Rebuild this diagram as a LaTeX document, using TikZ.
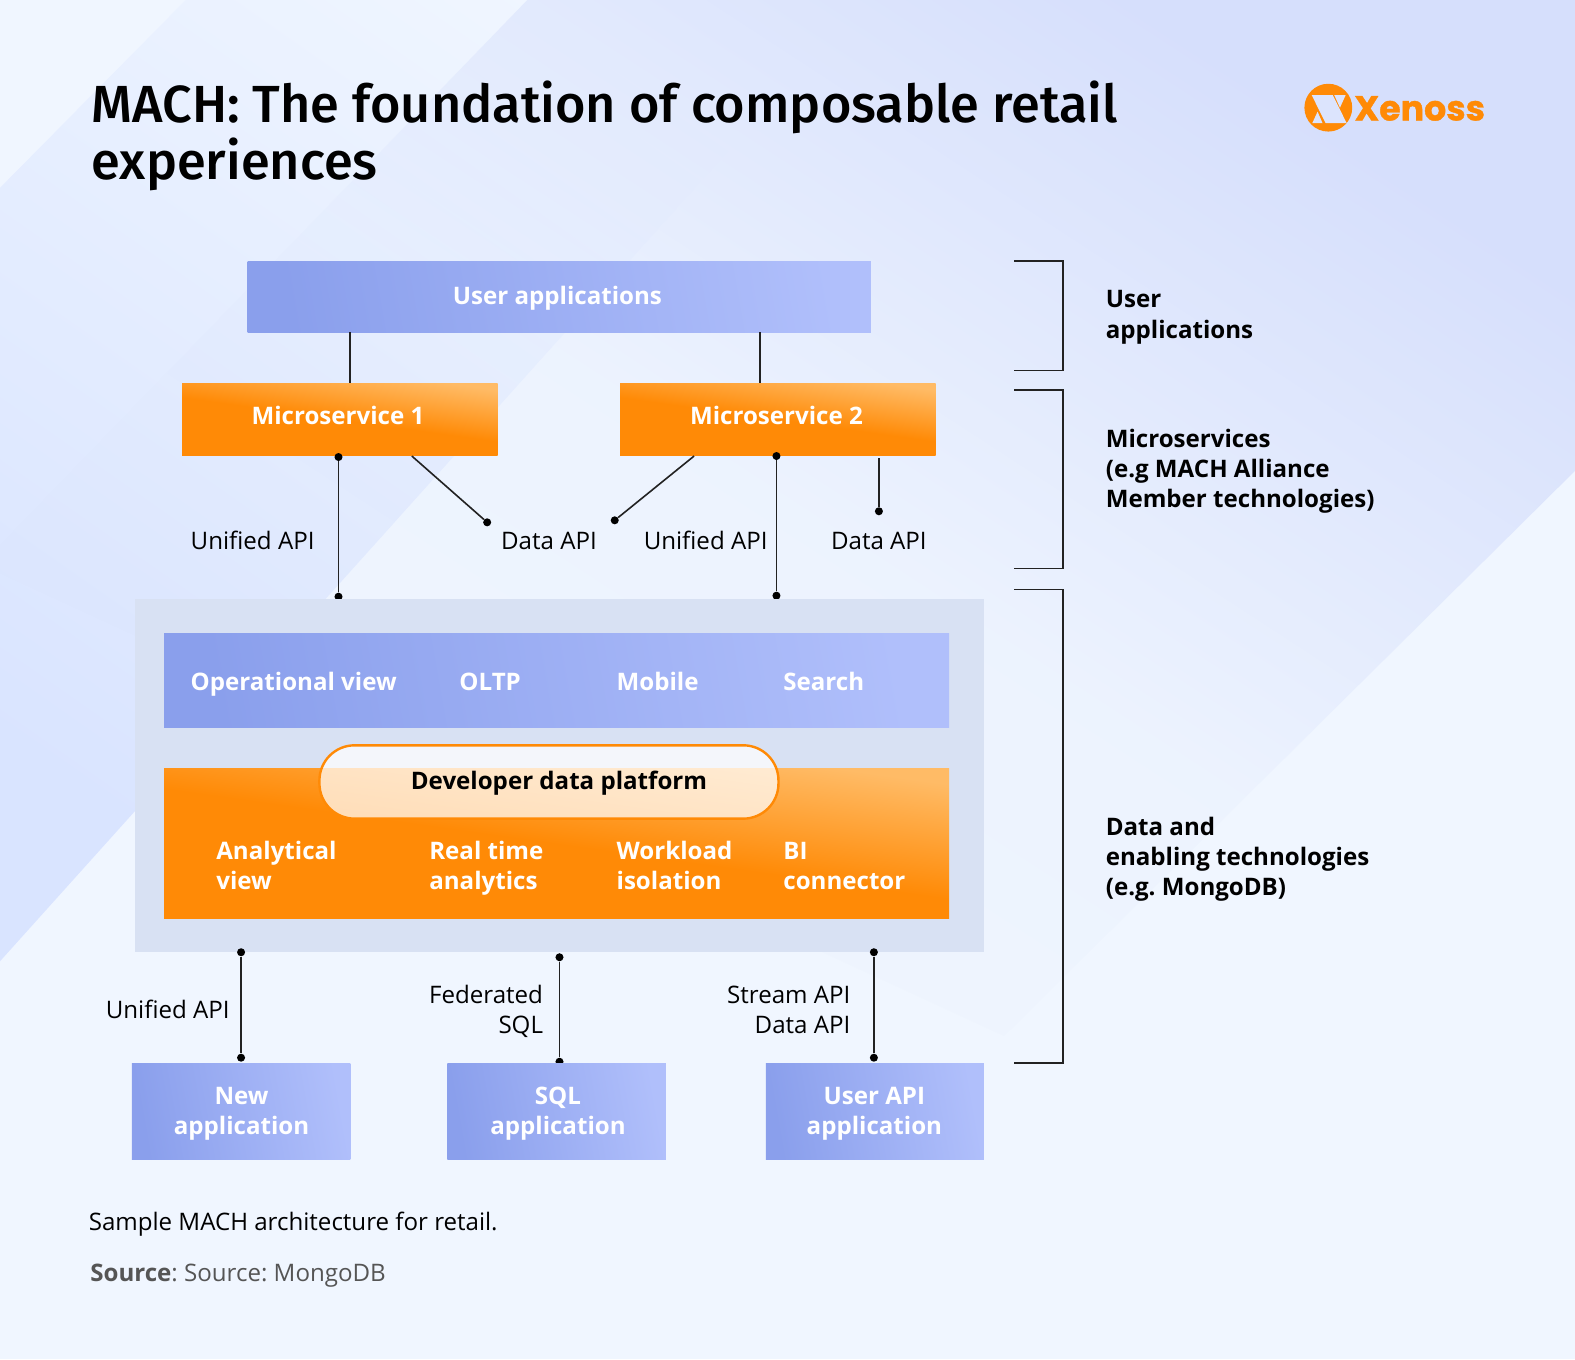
\documentclass[tikz,border=0pt]{standalone}
\usepackage{fontspec}
\setmainfont{Open Sans}
\newfontfamily\titlefont{Fira Sans Medium}
\newfontfamily\logofont[BoldFeatures={FakeBold=1}]{Poppins}
\usetikzlibrary{fadings}
\definecolor{basebg}{HTML}{F0F6FF}
\definecolor{banda}{HTML}{D9E4FF}
\definecolor{bandb}{HTML}{F0F6FF}
\definecolor{bandc}{HTML}{D6DFFC}
\definecolor{logobg}{HTML}{DCE4FD}
\definecolor{bluea}{HTML}{8A9FEC}
\definecolor{blueb}{HTML}{B0BFFB}
\definecolor{orangea}{HTML}{FF8A06}
\definecolor{orangeb}{HTML}{FFBB66}
\definecolor{panelc}{HTML}{D8E1F3}
\definecolor{linec}{HTML}{222222}
\definecolor{srcc}{HTML}{555555}
\tikzfading[name=bandfade,left color=transparent!100,right color=transparent!0,middle color=transparent!88]
\newcommand\st{\strut}
\tikzset{
  x=0.5pt,y=-0.5pt,
  boxbase/.style={anchor=north west,inner sep=0pt},
  blueshade/.style={boxbase,left color=bluea,right color=blueb,shading angle=100},
  orangeshade/.style={boxbase,top color=orangeb,bottom color=orangea,middle color=orangea,shading angle=-8},
  lbl/.style={font=\fontsize{12}{15}\selectfont,text=black,inner sep=0pt,yshift=-1.25pt},
  boxt/.style={font=\fontsize{12}{15}\bfseries\selectfont,text=white,inner sep=0pt,align=left,anchor=west,yshift=-1.25pt},
  boxc/.style={font=\fontsize{12}{15}\bfseries\selectfont,text=white,inner sep=0pt,align=center,yshift=-1.25pt},
  sidet/.style={font=\fontsize{12}{15}\bfseries\selectfont,text=black,inner sep=0pt,align=left,anchor=west,yshift=-1.25pt},
  wire/.style={draw=linec,line width=0.8pt},
  dotc/.style={circle,fill=black,inner sep=0pt,minimum size=4pt},
  brack/.style={draw=linec,line width=0.8pt},
}
\begin{document}
\frenchspacing
\begin{tikzpicture}
\useasboundingbox (0,0) rectangle (1568,1353);
\begin{scope}
\clip (0,0) rectangle (1568,1353);
\fill[basebg] (0,0) rectangle (1568,1353);
% background bands
\shade[top color=bandb,bottom color=banda,shading angle=-35] (0,187) -- (185,0) -- (860,0) -- (0,957) -- cycle;
\fill[bandc,path fading=bandfade,fading angle=45] (541,-20) -- (1590,-20) -- (1590,446) -- (1000,1030) -- (-20,560) -- cycle;
\end{scope}
% title
\node[anchor=base west,inner sep=0pt,font=\titlefont\fontsize{26}{28}\selectfont,text=black] (title1) at (91,122) {MACH: The foundation of composable retail};
\node[anchor=base west,inner sep=0pt,font=\titlefont\fontsize{26}{28}\selectfont,text=black] (title2) at (91,179) {experiences};
% logo
\fill[orangea] (1322.4,107.2) circle (23.8);
\fill[logobg] (1305.8,94.6) -- (1326.8,94.6) -- (1340.7,122.7) -- (1319.8,122.7) -- cycle;
\fill[logobg] (1328.3,94.6) -- (1339.7,94.6) -- (1334,107.2) -- cycle;
\fill[logobg] (1306.4,122.7) -- (1316.7,122.7) -- (1311.7,111.2) -- cycle;
\node[anchor=west,inner sep=0pt,font=\logofont\fontsize{17.3}{20}\bfseries\selectfont,text=orangea] (logo) at (1348,108) {Xenoss};
% top
\node[blueshade,minimum width=310.25pt,minimum height=35.5pt] (ua) at (246,260) {};
\node[boxc] (uat) at (555,295) {\st User applications};
\coordinate (ua1) at (348.5,331); \coordinate (ua1e) at (348.5,381);
\coordinate (ua2) at (756.5,331); \coordinate (ua2e) at (756.5,381);
\draw[wire] (ua1) -- (ua1e);
\draw[wire] (ua2) -- (ua2e);
\node[orangeshade,minimum width=157pt,minimum height=36.25pt] (ms1) at (181,381) {};
\node[orangeshade,minimum width=157pt,minimum height=36.25pt] (ms2) at (617,381) {};
\node[boxc] (ms1t) at (336.5,414) {\st Microservice 1};
\node[boxc] (ms2t) at (773,414) {\st Microservice 2};
% dots and wires upper
\node[dotc] (a1) at (337,455) {}; \node[dotc] (a2) at (337,594) {};
\coordinate (b1) at (410,454); \node[dotc] (b2) at (485,520) {};
\coordinate (c1) at (691,454); \node[dotc] (c2) at (612,518) {};
\node[dotc] (e1) at (773,454) {}; \node[dotc] (e2) at (773,593) {};
\coordinate (f1) at (875,456); \node[dotc] (f2) at (875,509) {};
\draw[wire] (a1) -- (a2);
\draw[wire] (b1) -- (b2);
\draw[wire] (c1) -- (c2);
\draw[wire] (e1) -- (e2);
\draw[wire] (f1) -- (f2);
\node[lbl] (l1) at (251.5,539) {\st Unified API};
\node[lbl] (l2) at (546.5,539) {\st Data API};
\node[lbl] (l3) at (702.5,539) {\st Unified API};
\node[lbl] (l4) at (875,539) {\st Data API};
% panel
\node[anchor=north west,fill=panelc,inner sep=0pt,minimum width=422.75pt,minimum height=175.75pt] (panel) at (134,596) {};
\node[blueshade,minimum width=390.75pt,minimum height=46.75pt] (oprow) at (163,630) {};
\node[orangeshade,minimum width=390.75pt,minimum height=74.75pt] (anrow) at (163,765) {};
\node[boxt] (t1) at (189.5,679) {\st Operational view};
\node[boxt] (t2) at (457,679) {\st OLTP};
\node[boxt] (t3) at (613.5,679) {\st Mobile};
\node[boxt] (t4) at (779.5,679) {\st Search};
\node[boxt] (t5) at (215,862.5) {\st Analytical\\\st view};
\node[boxt] (t6) at (427,862.5) {\st Real time\\\st analytics};
\node[boxt] (t7) at (613.5,862.5) {\st Workload\\\st isolation};
\node[boxt] (t8) at (779.5,862.5) {\st BI\\\st connector};
\path[draw=orangea,line width=1.2pt,fill=white,fill opacity=0.72,rounded corners=17.5pt] (318,742) rectangle (775,815);
\node[lbl,font=\fontsize{12}{15}\bfseries\selectfont] (pill) at (556.5,777) {\st Developer data platform};
% bottom
\node[dotc] (g1) at (240,948) {}; \node[dotc] (g2) at (240,1053) {};
\node[dotc] (h1) at (557,953) {}; \node[dotc] (h2) at (557,1057) {};
\node[dotc] (i1) at (870,948) {}; \node[dotc] (i2) at (870,1053) {};
\draw[wire] (g1) -- (g2);
\draw[wire] (h1) -- (h2);
\draw[wire] (i1) -- (i2);
\node[blueshade,minimum width=108.75pt,minimum height=47.75pt] (app1) at (131,1058) {};
\node[blueshade,minimum width=108.75pt,minimum height=47.75pt] (app2) at (445,1058) {};
\node[blueshade,minimum width=108.5pt,minimum height=47.75pt] (app3) at (762,1058) {};
\node[boxc] (app1t) at (240.5,1106) {\st New\\\st application};
\node[boxc] (app2t) at (555.5,1106) {\st SQL\\\st application};
\node[boxc] (app3t) at (870.5,1106) {\st User API\\\st application};
\node[lbl,anchor=east,align=right] (l5) at (229,1005.5) {\st Unified API};
\node[lbl,anchor=east,align=right] (l6) at (541,1005.5) {\st Federated\\\st SQL};
\node[lbl,anchor=east,align=right] (l7) at (847,1005.5) {\st Stream API\\\st Data API};
% brackets
\draw[brack] (1009.5,260) -- (1058.5,260) -- (1058.5,369) -- (1009.5,369);
\draw[brack] (1009.5,388) -- (1058.5,388) -- (1058.5,566) -- (1009.5,566);
\draw[brack] (1009.5,587) -- (1058.5,587) -- (1058.5,1058.5) -- (1009.5,1058.5);
\node[sidet] (s1) at (1100.5,313) {\st User\\\st applications};
\node[sidet] (s2) at (1100.5,467) {\st Microservices\\(e.g MACH Alliance\\\st Member technologies)};
\node[sidet] (s3) at (1100.5,853) {\st Data and\\enabling technologies\\\st (e.g. MongoDB)};
% footer
\node[lbl,anchor=west] (cap) at (88,1217) {\st Sample MACH architecture for retail.};
\node[lbl,anchor=west,text=srcc] (src) at (89.5,1267) {\st\textbf{Source}: Source: MongoDB};
\end{tikzpicture}
\end{document}
